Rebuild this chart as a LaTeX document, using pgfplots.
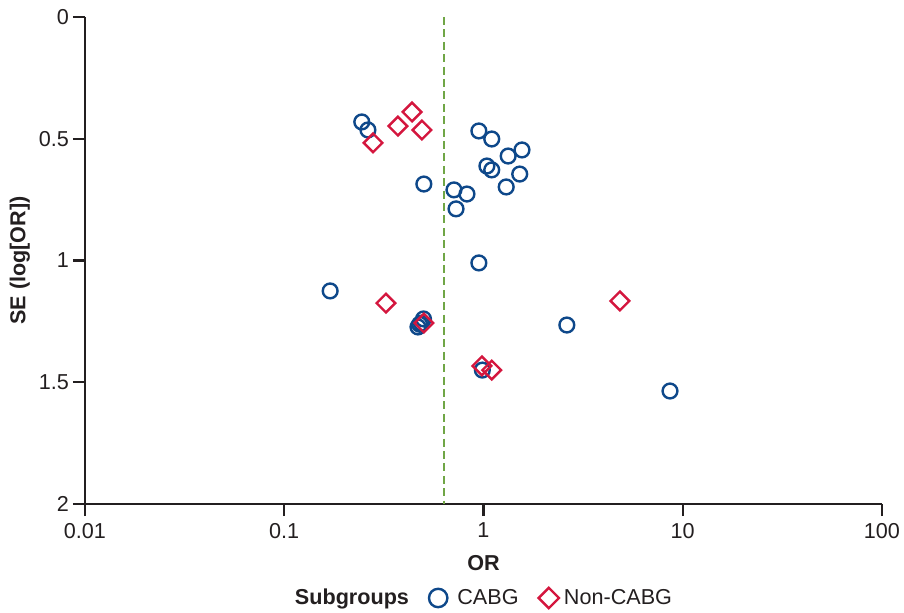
\documentclass[border=0pt]{standalone}
\usepackage{fontspec}
\setmainfont{Liberation Sans}
\usepackage{pgfplots}
\pgfplotsset{compat=1.18}
\usetikzlibrary{calc}

\definecolor{cabg}{RGB}{14,72,138}
\definecolor{noncabg}{RGB}{212,22,62}
\definecolor{refline}{RGB}{112,166,70}
\definecolor{axisgray}{RGB}{35,31,32}

\begin{document}
\begin{tikzpicture}
\begin{axis}[
    name=ax,
    scale only axis,
    width=398.5pt, height=243.5pt,
    xmode=log,
    xmin=0.01, xmax=100,
    ymin=0, ymax=2,
    y dir=reverse,
    axis lines=left,
    axis line style={-, line width=1.2pt, axisgray},
    xtick={0.01,0.1,1,10,100},
    xticklabels={0.01,0.1,1,10,100},
    ytick={0,0.5,1,1.5,2},
    yticklabels={0,0.5,1,1.5,2},
    xminorticks=false,
    tick align=outside,
    major tick length=6pt,
    tick style={line width=1.1pt, axisgray},
    ticklabel style={font=\fontsize{10.8}{13}\selectfont, text=axisgray},
    yticklabel style={xshift=1.5pt},
    /pgf/number format/assume math mode=true,
    xlabel={\textbf{OR}},
    ylabel={\textbf{SE (log[OR])}},
    label style={font=\fontsize{10.8}{13}\selectfont, text=axisgray},
    xlabel style={at={(axis description cs:0.5,-0.121)}, anchor=center},
    ylabel style={at={(axis description cs:-0.0816,0.5)}, anchor=center},
    legend columns=3,
    legend style={at={(axis description cs:0.5,-0.193)}, anchor=center,
        draw=none, font=\fontsize{10.8}{13}\selectfont, text=axisgray,
        /tikz/every even column/.append style={column sep=8pt}},
    clip=false,
]
\addlegendimage{empty legend}
\addlegendentry{\textbf{Subgroups}\hspace{2pt}}

\addplot[only marks, mark=o, mark size=3.7pt, line width=1.2pt, color=cabg,
    legend image post style={mark size=4.6pt}]
coordinates {
    (0.245,0.431) (0.263,0.464) (0.502,0.686) (0.948,0.468) (1.10,0.501)
    (1.56,0.546) (1.33,0.571) (1.04,0.612) (1.10,0.628) (1.52,0.645)
    (1.30,0.698) (0.711,0.710) (0.826,0.727) (0.728,0.788) (0.948,1.010)
    (0.170,1.125) (0.469,1.273) (0.488,1.257) (0.500,1.240) (0.478,1.262)
    (2.62,1.265) (0.987,1.450) (8.63,1.536)
};
\addlegendentry{\hspace{3pt}CABG\hspace{-1.5pt}}

\addplot[only marks, mark=square, mark size=3.3pt, line width=1.2pt, color=noncabg,
    mark options={rotate=45},
    legend image post style={mark size=3.6pt}]
coordinates {
    (0.438,0.390) (0.372,0.448) (0.491,0.464) (0.279,0.517)
    (0.324,1.175) (0.502,1.257) (0.982,1.433) (1.10,1.450) (4.84,1.166)
};
\addlegendentry{\hspace{0.5pt}Non-CABG}

\addplot[refline, line width=1.3pt, dash pattern=on 4pt off 2.2pt, forget plot]
coordinates {(0.634,0) (0.634,2)};
\end{axis}
\pgfresetboundingbox
\path[use as bounding box] ($(ax.south west)+(-42.5pt,-54.5pt)$) rectangle ($(ax.north east)+(11pt,8.5pt)$);
\end{tikzpicture}
\end{document}
